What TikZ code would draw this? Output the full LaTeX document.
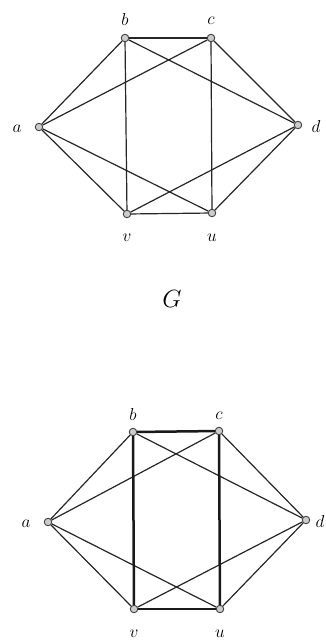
\documentclass[tikz,border=0pt]{standalone}
\begin{document}
\begin{tikzpicture}[x=1pt,y=-1pt,
  vtx/.style={circle,draw=black!75,fill=black!20,line width=0.9pt,inner sep=0pt,minimum size=7.5pt},
  edge/.style={draw=black!85,line width=1.2pt},
  thick edge/.style={draw=black!90,line width=2.5pt},
  lbl/.style={font=\fontsize{18}{20}\selectfont\itshape,inner sep=0pt,anchor=base},
  glbl/.style={font=\fontsize{23}{26}\selectfont\itshape,inner sep=0pt,anchor=base}]
\path[use as bounding box,fill=white] (0,0) rectangle (326,641);
% top graph
\node[vtx] (a1) at (39,127) {};
\node[vtx] (b1) at (125,38) {};
\node[vtx] (c1) at (211,38) {};
\node[vtx] (d1) at (298,125) {};
\node[vtx] (v1) at (127,214) {};
\node[vtx] (u1) at (212,213) {};
\foreach \p/\q in {a1/b1,a1/c1,a1/v1,a1/u1,b1/c1,b1/v1,b1/d1,c1/u1,c1/d1,d1/v1,d1/u1,v1/u1}
  \draw[edge] (\p) -- (\q);
\node[lbl] (la1) at (17,132) {$a$};
\node[lbl] (lb1) at (125,25) {$b$};
\node[lbl] (lc1) at (211,24) {$c$};
\node[lbl] (ld1) at (316,132) {$d$};
\node[lbl] (lv1) at (127,241) {$v$};
\node[lbl] (lu1) at (212,241) {$u$};
\node[glbl] (G) at (172,307) {$G$};
% bottom graph
\node[vtx] (a2) at (48,522) {};
\node[vtx] (b2) at (133,432) {};
\node[vtx] (c2) at (219,431) {};
\node[vtx] (d2) at (306,520) {};
\node[vtx] (v2) at (134,609) {};
\node[vtx] (u2) at (220,609) {};
\foreach \p/\q in {a2/b2,a2/c2,a2/v2,a2/u2,b2/d2,c2/d2,d2/v2,d2/u2}
  \draw[edge] (\p) -- (\q);
\foreach \p/\q in {b2/c2,b2/v2,c2/u2,v2/u2}
  \draw[thick edge] (\p) -- (\q);
\node[lbl] (la2) at (26,527) {$a$};
\node[lbl] (lb2) at (133,420) {$b$};
\node[lbl] (lc2) at (219,419) {$c$};
\node[lbl] (ld2) at (320,527) {$d$};
\node[lbl] (lv2) at (134,637) {$v$};
\node[lbl] (lu2) at (220,637) {$u$};
\end{tikzpicture}
\end{document}
